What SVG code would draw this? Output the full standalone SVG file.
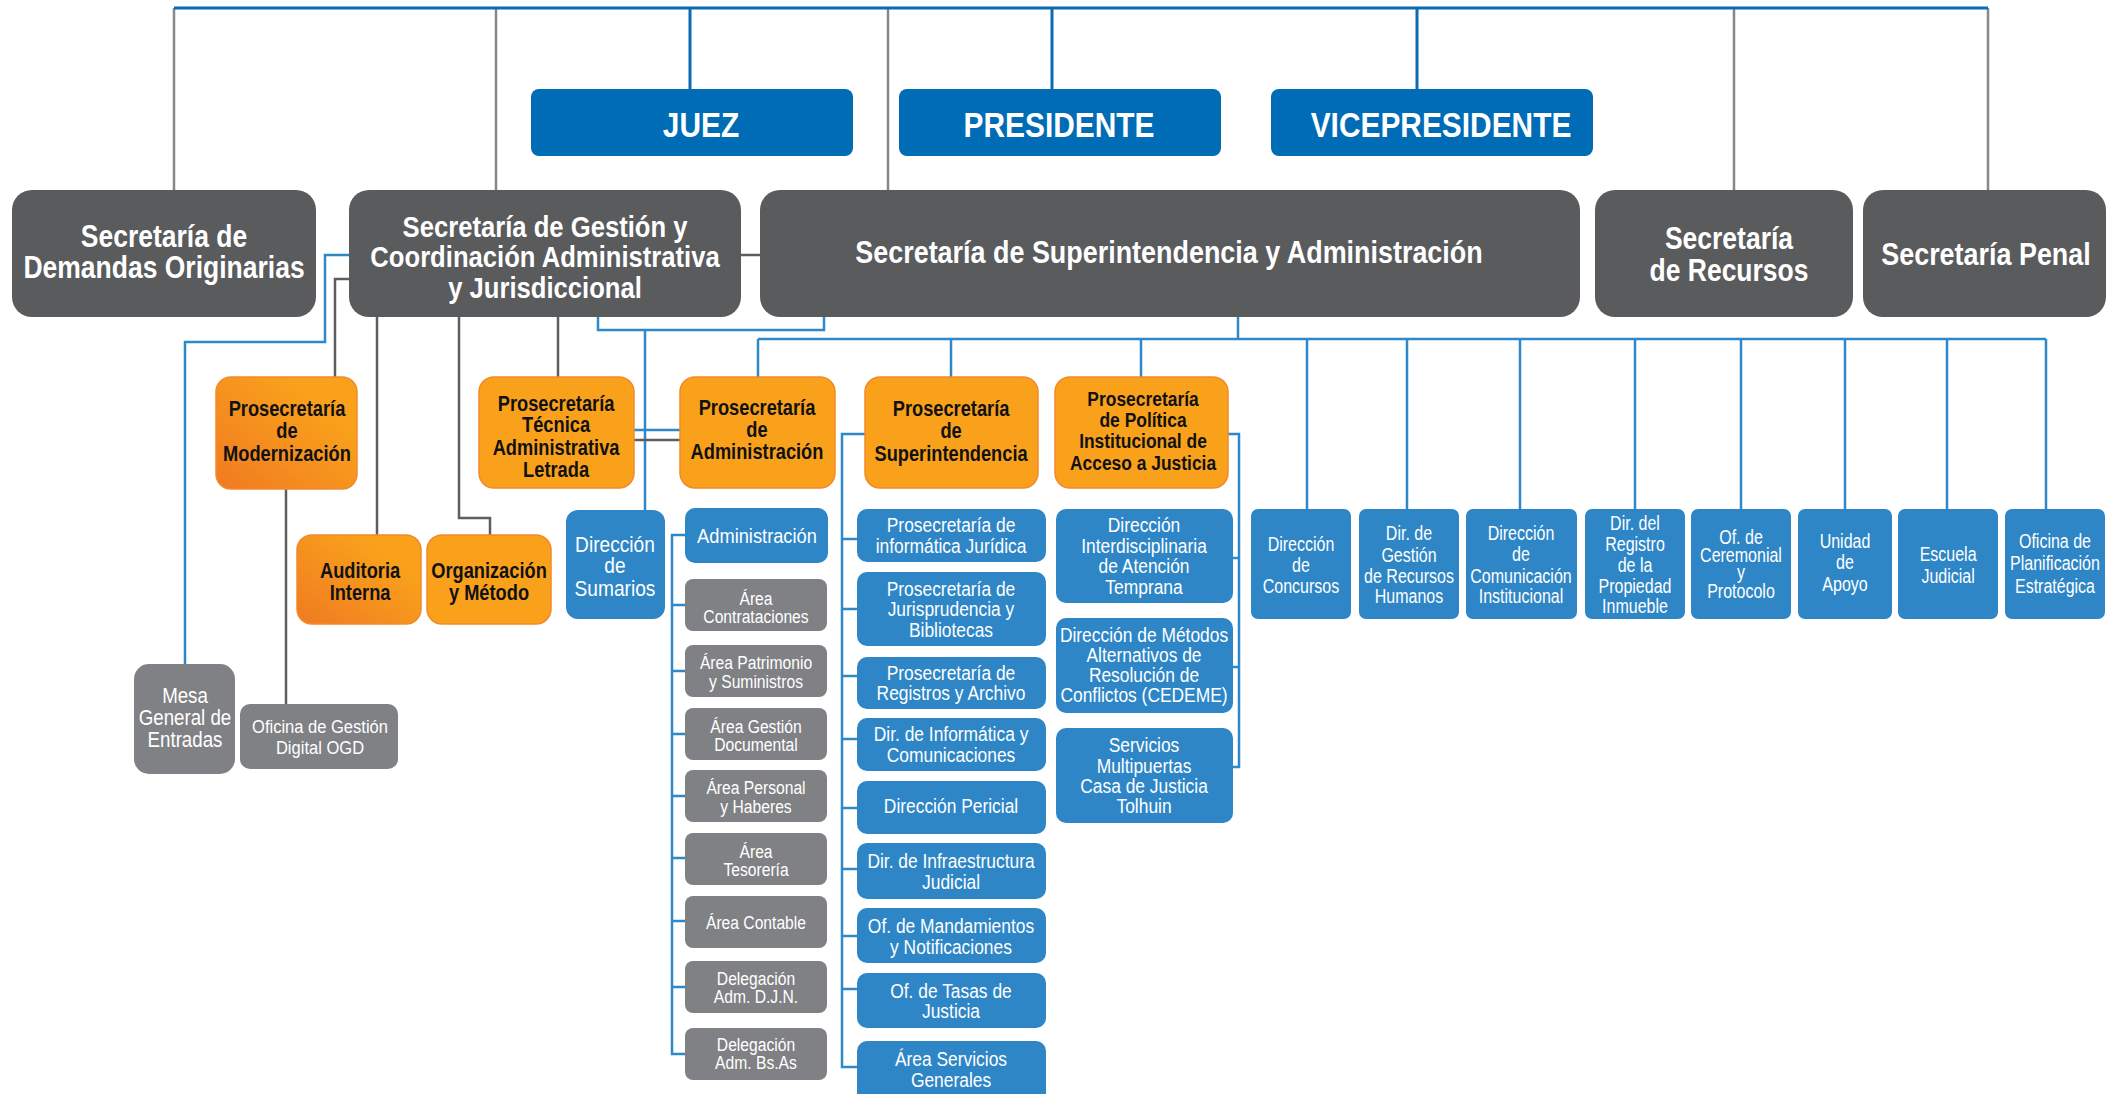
<svg xmlns="http://www.w3.org/2000/svg" width="2128" height="1094" viewBox="0 0 2128 1094">
<defs>
<linearGradient id="og" x1="0" y1="1" x2="1" y2="0">
<stop offset="0" stop-color="#f07a22"/>
<stop offset="0.75" stop-color="#f9a11b"/>
</linearGradient>
<style>
.ex{fill:#006cb5}
.sec{fill:#5a5b5d}
.or{fill:#f9a11b;stroke:#f2892b;stroke-width:1.5}
.og{fill:url(#og);stroke:#f2892b;stroke-width:1.5}
.bl{fill:#2e86c7}
.gr{fill:#808184}
text{font-family:"Liberation Sans",Arial,sans-serif;text-anchor:middle;transform-box:fill-box;transform-origin:center}
.tb{font-weight:bold;transform:scaleX(.83)}
.s{transform:scaleX(.855)}
.tr{transform:scaleX(.87)}
.tn{transform:scaleX(.8)}
.w{fill:#fff}
.k{fill:#111}
.cb{fill:none;stroke:#2f88ca;stroke-width:2.5}
.ct{fill:none;stroke:#0c6bb3;stroke-width:3}
.cg{fill:none;stroke:#5d5e61;stroke-width:2.5}
.cl{fill:none;stroke:#87888b;stroke-width:2.5}
</style>
</defs>
<rect width="2128" height="1094" fill="#fff"/>

<g id="connectors">
<path class="cl" d="M174,8V190M496,8V190M888,8V190M1734,8V190M1988,8V190"/>
<path class="ct" d="M174,8H1988M690,8V89M1052,8V89M1417,8V89"/>
<path class="cg" d="M741,255H760"/>
<path class="cb" d="M349,255H325V342H185V664"/>
<path class="cg" d="M349,279H335V377M377,317V535M459,317V518H490V535M558,317V377M286,489V704"/>
<path class="cb" d="M598,317V330H824V317M645,330V510M634,430H680"/>
<path class="cg" d="M634,440H680"/>
<path class="cb" d="M1238,317V339M758,339H2046M758,339V377M951,339V377M1141,339V377M1307,339V509M1407,339V509M1520,339V509M1635,339V509M1741,339V509M1845,339V509M1947,339V509M2046,339V509"/>
<path class="cb" d="M685,535H672V1054H685M672,605H685M672,671H685M672,734H685M672,796H685M672,858H685M672,921H685M672,987H685"/>
<path class="cb" d="M865,434H842V1067H857M842,539H857M842,609H857M842,676H857M842,739H857M842,808H857M842,869H857M842,936H857M842,989H857"/>
<path class="cb" d="M1228,434H1239V767H1233M1239,558H1233M1239,667H1233"/>
</g>

<g id="juez"><rect class="ex" x="531" y="89" width="322" height="67" rx="8"/><text class="tb w" x="701" y="137" font-size="36">JUEZ</text></g>
<g id="presidente"><rect class="ex" x="899" y="89" width="322" height="67" rx="8"/><text class="tb w" x="1059" y="137" font-size="36">PRESIDENTE</text></g>
<g id="vicepresidente"><rect class="ex" x="1271" y="89" width="322" height="67" rx="8"/><text class="tb w" x="1441" y="137" font-size="36">VICEPRESIDENTE</text></g>

<g id="sec-demandas"><rect class="sec" x="12" y="190" width="304" height="127" rx="20"/><text class="tb s w" x="164" y="247" font-size="31"><tspan x="164">Secretaría de</tspan><tspan x="164" y="278">Demandas Originarias</tspan></text></g>
<g id="sec-gestion"><rect class="sec" x="349" y="190" width="392" height="127" rx="20"/><text class="tb s w" x="545" y="237" font-size="30"><tspan x="545">Secretaría de Gestión y</tspan><tspan x="545" y="267">Coordinación Administrativa</tspan><tspan x="545" y="298">y Jurisdiccional</tspan></text></g>
<g id="sec-superintendencia"><rect class="sec" x="760" y="190" width="820" height="127" rx="20"/><text class="tb s w" x="1169" y="263" font-size="31.5">Secretaría de Superintendencia y Administración</text></g>
<g id="sec-recursos"><rect class="sec" x="1595" y="190" width="258" height="127" rx="20"/><text class="tb s w" x="1729" y="249" font-size="31"><tspan x="1729">Secretaría</tspan><tspan x="1729" y="281">de Recursos</tspan></text></g>
<g id="sec-penal"><rect class="sec" x="1863" y="190" width="243" height="127" rx="20"/><text class="tb s w" x="1986" y="265" font-size="31.5">Secretaría Penal</text></g>

<g id="pro-modernizacion"><rect class="og" x="216" y="377" width="141" height="112" rx="15"/><text class="tb k" x="287" y="416" font-size="22"><tspan x="287">Prosecretaría</tspan><tspan x="287" y="438">de</tspan><tspan x="287" y="461">Modernización</tspan></text></g>
<g id="auditoria"><rect class="og" x="297" y="535" width="124" height="89" rx="15"/><text class="tb k" x="360" y="578" font-size="22"><tspan x="360">Auditoria</tspan><tspan x="360" y="600">Interna</tspan></text></g>
<g id="organizacion"><rect class="or" x="427" y="535" width="124" height="89" rx="15"/><text class="tb k" x="489" y="578" font-size="22"><tspan x="489">Organización</tspan><tspan x="489" y="600">y Método</tspan></text></g>
<g id="pro-tecnica"><rect class="or" x="479" y="377" width="155" height="111" rx="15"/><text class="tb k" x="556" y="411" font-size="22"><tspan x="556">Prosecretaría</tspan><tspan x="556" y="432">Técnica</tspan><tspan x="556" y="455">Administrativa</tspan><tspan x="556" y="477">Letrada</tspan></text></g>
<g id="pro-administracion"><rect class="or" x="680" y="377" width="155" height="111" rx="15"/><text class="tb k" x="757" y="415" font-size="22"><tspan x="757">Prosecretaría</tspan><tspan x="757" y="437">de</tspan><tspan x="757" y="459">Administración</tspan></text></g>
<g id="pro-superintendencia"><rect class="or" x="865" y="377" width="173" height="111" rx="15"/><text class="tb k" x="951" y="416" font-size="22"><tspan x="951">Prosecretaría</tspan><tspan x="951" y="438">de</tspan><tspan x="951" y="461">Superintendencia</tspan></text></g>
<g id="pro-politica"><rect class="or" x="1055" y="377" width="173" height="111" rx="15"/><text class="tb k" x="1143" y="406" font-size="21"><tspan x="1143">Prosecretaría</tspan><tspan x="1143" y="427">de Política</tspan><tspan x="1143" y="448">Institucional de</tspan><tspan x="1143" y="470">Acceso a Justicia</tspan></text></g>

<g id="mesa"><rect class="gr" x="134" y="664" width="101" height="110" rx="15"/><text class="tr w" x="185" y="703" font-size="21.5"><tspan x="185">Mesa</tspan><tspan x="185" y="725">General de</tspan><tspan x="185" y="747">Entradas</tspan></text></g>
<g id="ogd"><rect class="gr" x="240" y="704" width="158" height="65" rx="10"/><text class="tr w" x="320" y="733" font-size="19"><tspan x="320">Oficina de Gestión</tspan><tspan x="320" y="754">Digital OGD</tspan></text></g>

<g id="sumarios"><rect class="bl" x="566" y="510" width="99" height="109" rx="12"/><text class="tr w" x="615" y="552" font-size="22"><tspan x="615">Dirección</tspan><tspan x="615" y="573">de</tspan><tspan x="615" y="596">Sumarios</tspan></text></g>

<g id="administracion"><rect class="bl" x="685" y="508" width="143" height="55" rx="10"/><text class="tr w" x="757" y="543" font-size="21">Administración</text></g>
<g id="area-contrataciones"><rect class="gr" x="685" y="579" width="142" height="52" rx="8"/><text class="tr w" x="756" y="605" font-size="18"><tspan x="756">Área</tspan><tspan x="756" y="623">Contrataciones</tspan></text></g>
<g id="area-patrimonio"><rect class="gr" x="685" y="645" width="142" height="52" rx="8"/><text class="tr w" x="756" y="669" font-size="18"><tspan x="756">Área Patrimonio</tspan><tspan x="756" y="688">y Suministros</tspan></text></g>
<g id="area-gestion-documental"><rect class="gr" x="685" y="708" width="142" height="52" rx="8"/><text class="tr w" x="756" y="733" font-size="18"><tspan x="756">Área Gestión</tspan><tspan x="756" y="751">Documental</tspan></text></g>
<g id="area-personal"><rect class="gr" x="685" y="770" width="142" height="52" rx="8"/><text class="tr w" x="756" y="794" font-size="18"><tspan x="756">Área Personal</tspan><tspan x="756" y="813">y Haberes</tspan></text></g>
<g id="area-tesoreria"><rect class="gr" x="685" y="833" width="142" height="52" rx="8"/><text class="tr w" x="756" y="858" font-size="18"><tspan x="756">Área</tspan><tspan x="756" y="876">Tesorería</tspan></text></g>
<g id="area-contable"><rect class="gr" x="685" y="896" width="142" height="52" rx="8"/><text class="tr w" x="756" y="929" font-size="18">Área Contable</text></g>
<g id="delegacion-djn"><rect class="gr" x="685" y="961" width="142" height="52" rx="8"/><text class="tr w" x="756" y="985" font-size="18"><tspan x="756">Delegación</tspan><tspan x="756" y="1003">Adm. D.J.N.</tspan></text></g>
<g id="delegacion-bsas"><rect class="gr" x="685" y="1028" width="142" height="52" rx="8"/><text class="tr w" x="756" y="1051" font-size="18"><tspan x="756">Delegación</tspan><tspan x="756" y="1069">Adm. Bs.As</tspan></text></g>

<g id="pro-informatica-juridica"><rect class="bl" x="857" y="509" width="189" height="53" rx="10"/><text class="tr w" x="951" y="532" font-size="20"><tspan x="951">Prosecretaría de</tspan><tspan x="951" y="553">informática Jurídica</tspan></text></g>
<g id="pro-jurisprudencia"><rect class="bl" x="857" y="572" width="189" height="74" rx="10"/><text class="tr w" x="951" y="596" font-size="20"><tspan x="951">Prosecretaría de</tspan><tspan x="951" y="616">Jurisprudencia y</tspan><tspan x="951" y="637">Bibliotecas</tspan></text></g>
<g id="pro-registros"><rect class="bl" x="857" y="657" width="189" height="52" rx="10"/><text class="tr w" x="951" y="680" font-size="20"><tspan x="951">Prosecretaría de</tspan><tspan x="951" y="700">Registros y Archivo</tspan></text></g>
<g id="dir-informatica"><rect class="bl" x="857" y="718" width="189" height="53" rx="10"/><text class="tr w" x="951" y="741" font-size="20"><tspan x="951">Dir. de Informática y</tspan><tspan x="951" y="762">Comunicaciones</tspan></text></g>
<g id="dir-pericial"><rect class="bl" x="857" y="781" width="189" height="53" rx="10"/><text class="tr w" x="951" y="813" font-size="20">Dirección Pericial</text></g>
<g id="dir-infraestructura"><rect class="bl" x="857" y="843" width="189" height="56" rx="10"/><text class="tr w" x="951" y="868" font-size="20"><tspan x="951">Dir. de Infraestructura</tspan><tspan x="951" y="889">Judicial</tspan></text></g>
<g id="of-mandamientos"><rect class="bl" x="857" y="908" width="189" height="55" rx="10"/><text class="tr w" x="951" y="933" font-size="20"><tspan x="951">Of. de Mandamientos</tspan><tspan x="951" y="954">y Notificaciones</tspan></text></g>
<g id="of-tasas"><rect class="bl" x="857" y="973" width="189" height="55" rx="10"/><text class="tr w" x="951" y="998" font-size="20"><tspan x="951">Of. de Tasas de</tspan><tspan x="951" y="1018">Justicia</tspan></text></g>
<g id="area-servicios"><rect class="bl" x="857" y="1041" width="189" height="62" rx="10"/><text class="tr w" x="951" y="1066" font-size="20"><tspan x="951">Área Servicios</tspan><tspan x="951" y="1087">Generales</tspan></text></g>

<g id="dir-interdisciplinaria"><rect class="bl" x="1056" y="509" width="177" height="94" rx="10"/><text class="tr w" x="1144" y="532" font-size="20"><tspan x="1144">Dirección</tspan><tspan x="1144" y="553">Interdisciplinaria</tspan><tspan x="1144" y="573">de Atención</tspan><tspan x="1144" y="594">Temprana</tspan></text></g>
<g id="dir-cedeme"><rect class="bl" x="1056" y="618" width="177" height="95" rx="10"/><text class="tr w" x="1144" y="642" font-size="20"><tspan x="1144">Dirección de Métodos</tspan><tspan x="1144" y="662">Alternativos de</tspan><tspan x="1144" y="682">Resolución de</tspan><tspan x="1144" y="702">Conflictos (CEDEME)</tspan></text></g>
<g id="servicios-multipuertas"><rect class="bl" x="1056" y="728" width="177" height="95" rx="10"/><text class="tr w" x="1144" y="752" font-size="20"><tspan x="1144">Servicios</tspan><tspan x="1144" y="773">Multipuertas</tspan><tspan x="1144" y="793">Casa de Justicia</tspan><tspan x="1144" y="813">Tolhuin</tspan></text></g>

<g id="dir-concursos"><rect class="bl" x="1251" y="509" width="100" height="110" rx="7"/><text class="tn w" x="1301" y="551" font-size="20"><tspan x="1301">Dirección</tspan><tspan x="1301" y="572">de</tspan><tspan x="1301" y="593">Concursos</tspan></text></g>
<g id="dir-rrhh"><rect class="bl" x="1359" y="509" width="100" height="110" rx="7"/><text class="tn w" x="1409" y="540" font-size="20"><tspan x="1409">Dir. de</tspan><tspan x="1409" y="562">Gestión</tspan><tspan x="1409" y="583">de Recursos</tspan><tspan x="1409" y="603">Humanos</tspan></text></g>
<g id="dir-comunicacion"><rect class="bl" x="1466" y="509" width="111" height="110" rx="7"/><text class="tn w" x="1521" y="540" font-size="20"><tspan x="1521">Dirección</tspan><tspan x="1521" y="561">de</tspan><tspan x="1521" y="583">Comunicación</tspan><tspan x="1521" y="603">Institucional</tspan></text></g>
<g id="dir-registro-propiedad"><rect class="bl" x="1585" y="509" width="100" height="110" rx="7"/><text class="tn w" x="1635" y="530" font-size="20"><tspan x="1635">Dir. del</tspan><tspan x="1635" y="551">Registro</tspan><tspan x="1635" y="572">de la</tspan><tspan x="1635" y="593">Propiedad</tspan><tspan x="1635" y="613">Inmueble</tspan></text></g>
<g id="of-ceremonial"><rect class="bl" x="1691" y="509" width="100" height="110" rx="7"/><text class="tn w" x="1741" y="544" font-size="20"><tspan x="1741">Of. de</tspan><tspan x="1741" y="562">Ceremonial</tspan><tspan x="1741" y="579">y</tspan><tspan x="1741" y="598">Protocolo</tspan></text></g>
<g id="unidad-apoyo"><rect class="bl" x="1798" y="509" width="94" height="110" rx="7"/><text class="tn w" x="1845" y="548" font-size="20"><tspan x="1845">Unidad</tspan><tspan x="1845" y="569">de</tspan><tspan x="1845" y="591">Apoyo</tspan></text></g>
<g id="escuela-judicial"><rect class="bl" x="1898" y="509" width="100" height="110" rx="7"/><text class="tn w" x="1948" y="561" font-size="20"><tspan x="1948">Escuela</tspan><tspan x="1948" y="583">Judicial</tspan></text></g>
<g id="of-planificacion"><rect class="bl" x="2005" y="509" width="100" height="110" rx="7"/><text class="tn w" x="2055" y="548" font-size="20"><tspan x="2055">Oficina de</tspan><tspan x="2055" y="570">Planificación</tspan><tspan x="2055" y="593">Estratégica</tspan></text></g>
</svg>
